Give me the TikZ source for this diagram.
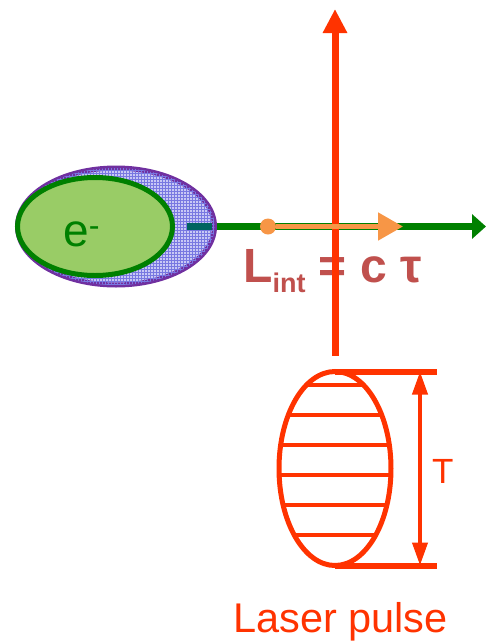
\documentclass[tikz,border=0pt]{standalone}
\usepackage{fontspec}
\setmainfont{Liberation Sans}
\usetikzlibrary{arrows.meta, positioning, shapes.geometric, patterns}

\definecolor{laserred}{RGB}{255,51,0}
\definecolor{beamgreen}{RGB}{0,128,0}
\definecolor{bunchgreen}{RGB}{153,204,102}
\definecolor{haloviolet}{RGB}{112,48,160}
\definecolor{halofill}{RGB}{200,200,245}
\definecolor{halogrid}{RGB}{120,120,225}
\definecolor{beamteal}{RGB}{0,100,95}
\definecolor{overlap}{RGB}{247,150,70}
\definecolor{formula}{RGB}{192,80,77}

\begin{document}
\begin{tikzpicture}[x=1pt, y=-1pt,
    halo/.style={ellipse, draw=haloviolet, line width=5pt, fill=halofill,
                postaction={pattern=grid, pattern color=halogrid},
                minimum width=197pt, minimum height=117pt, inner sep=0pt, outer sep=0pt},
    core/.style={ellipse, draw=beamgreen, line width=5pt, fill=bunchgreen,
                minimum width=155pt, minimum height=98pt, inner sep=0pt, outer sep=0pt},
    pulse/.style={ellipse, draw=laserred, line width=5pt,
                minimum width=112pt, minimum height=194pt, inner sep=0pt, outer sep=0pt},
    dot/.style={circle, fill=overlap, minimum size=16pt, inner sep=0pt},
    beam/.style={-{Triangle[length=14pt, width=24pt]}, line width=7pt, draw=beamgreen},
    laser/.style={-{Triangle[length=24pt, width=23pt]}, line width=7pt, draw=laserred},
    inter/.style={-{Triangle[length=25pt, width=27pt]}, line width=5pt, draw=overlap},
    edge/.style={line width=6pt, draw=laserred},
    span/.style={{Triangle[length=23pt, width=15pt]}-{Triangle[length=23pt, width=15pt]},
                line width=4pt, draw=laserred},
    stripe/.style={line width=3.5pt, draw=laserred},
    label/.style={anchor=base west, inner sep=0pt}
]
    \useasboundingbox (0,0) rectangle (486,641);

    % electron bunch
    \node[halo] (halo) at (116,226.5) {};
    \node[core] (core) at (95,226.5) {};
    \node[label, text=beamgreen, font=\fontsize{46}{46}\selectfont] (elabel) at (63,246)
        {e\textsuperscript{-}};

    % beam axis
    \coordinate (beamstart) at (187,226.5);
    \coordinate (beamend) at (486,226.5);
    \draw[beamteal, line width=7pt, shorten >=3pt] (beamstart) -- (halo.east);
    \draw[beam, shorten <=2.5pt] (halo.east) -- (beamend);

    \node[label, text=formula, font=\fontsize{48}{48}\selectfont\bfseries] (lint) at (243,282)
        {L\raisebox{-10pt}{\fontsize{27}{27}\selectfont int} = c τ};

    % laser pulse
    \node[pulse] (pulse) at (335,468.5) {};
    \begin{scope}
        \clip (pulse.center) ellipse [x radius=56pt, y radius=97pt];
        \foreach \y in {385,415,...,535}
            \draw[stripe] (250,\y) -- (420,\y);
    \end{scope}
    \coordinate (laserend) at (335,9);
    \draw[laser] ([yshift=16pt]pulse.north) -- (laserend);

    % interaction length
    \node[dot] (origin) at (268,226.5) {};
    \coordinate (reach) at (403,226.5);
    \draw[inter] (origin) -- (reach);

    % pulse length
    \draw[edge] (pulse.north) -- ++(102,0);
    \draw[edge] (pulse.south) -- ++(102,0);
    \draw[span] ([xshift=85pt]pulse.north) -- ([xshift=85pt]pulse.south);
    \node[label, text=laserred, font=\fontsize{35}{35}\selectfont] (tlabel) at (432,483) {T};

    \node[label, text=laserred, font=\fontsize{41.5}{41.5}\selectfont] (caption) at (233,632)
        {Laser pulse};
\end{tikzpicture}
\end{document}
